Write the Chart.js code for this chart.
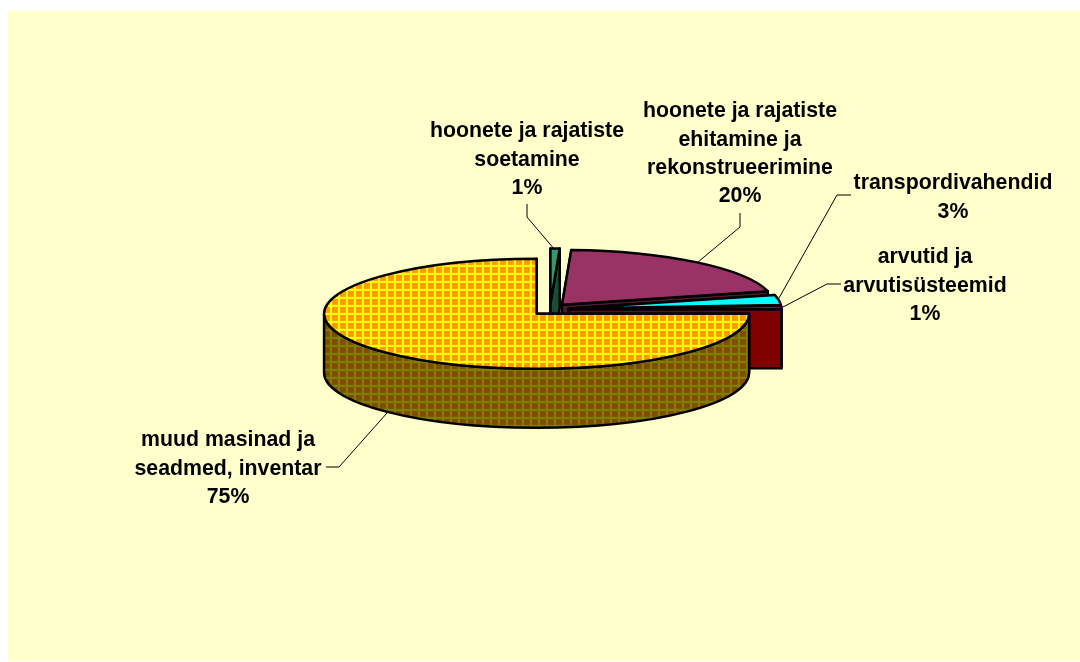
<!DOCTYPE html>
<html>
<head>
<meta charset="utf-8">
<title>Pie</title>
<script src="https://cdn.jsdelivr.net/npm/chart.js@4"></script>
<style>
    html, body { margin: 0; padding: 0; background: #fff; }
    canvas { display: block; }
</style>
</head>
<body>
<canvas id="pieChart" width="1080" height="662"></canvas>
<script>
const categories = [
    ['hoonete ja rajatiste', 'soetamine'],
    ['hoonete ja rajatiste', 'ehitamine ja', 'rekonstrueerimine'],
    ['transpordivahendid'],
    ['arvutid ja', 'arvutisüsteemid'],
    ['muud masinad ja', 'seadmed, inventar']
];
const values = [0.7, 20.3, 3, 1, 75];
const percentLabels = ['1%', '20%', '3%', '1%', '75%'];
const topColors = ['#339966', '#993366', '#00FFFF', '#FF0000', null];
const sideColors = ['#1A4D33', '#4D1933', '#008080', '#800000', null];

// label centre (x, first line y) and the leader line for each slice
const labelPos = [[527, 131.5], [740, 111.5], [953, 183.5], [925, 257.5], [228, 440.5]];
const leaders = [
    [[527, 204], [527, 217], [555, 250]],
    [[740, 213], [740, 227], [698, 262]],
    [[851, 195], [837, 195], [779, 298]],
    [[841, 284], [827, 284], [783, 307]],
    [[326, 467], [339, 467], [387, 413]]
];

const RADIUS = 212.5;
const SQUASH = 55 / 212.5;
const DEPTH = 59;
const CENTER_X = 550;
const CENTER_Y = 309.5;
const EXPLODE_X = 19;
const EXPLODE_Y = 6;

function makeGrid(base, soft, line) {
    const tile = document.createElement('canvas');
    tile.width = 8;
    tile.height = 8;
    const t = tile.getContext('2d');
    t.fillStyle = base;
    t.fillRect(0, 0, 8, 8);
    t.fillStyle = soft;
    t.fillRect(1, 0, 1, 8);
    t.fillRect(0, 0, 8, 1);
    t.fillStyle = line;
    t.fillRect(2, 0, 2, 8);
    t.fillRect(0, 1, 8, 2);
    return t.createPattern(tile, 'repeat');
}

const topPattern = makeGrid('#FF9900', '#FFA800', '#FFFF00');
const sidePattern = makeGrid('#804D00', '#805500', '#808000');
topColors[4] = topPattern;
sideColors[4] = sidePattern;

function outline(ctx) {
    ctx.strokeStyle = '#000';
    ctx.lineWidth = 2.5;
    ctx.lineJoin = 'round';
    ctx.stroke();
}

function drawSides(ctx, vx, vy, a0, a1, color) {
    const ry = RADIUS * SQUASH;
    ctx.fillStyle = color;
    // the two cut faces
    [a0, a1].forEach((a) => {
        const ex = vx + Math.cos(a) * RADIUS;
        const ey = vy + Math.sin(a) * ry;
        ctx.beginPath();
        ctx.moveTo(vx, vy);
        ctx.lineTo(ex, ey);
        ctx.lineTo(ex, ey + DEPTH);
        ctx.lineTo(vx, vy + DEPTH);
        ctx.closePath();
        ctx.fill();
        outline(ctx);
    });
    // outer wall, only the part that faces the viewer
    const from = Math.max(a0, 0);
    const to = Math.min(a1, Math.PI);
    if (to > from) {
        ctx.beginPath();
        ctx.ellipse(vx, vy, RADIUS, ry, 0, from, to);
        ctx.lineTo(vx + Math.cos(to) * RADIUS, vy + Math.sin(to) * ry + DEPTH);
        ctx.ellipse(vx, vy + DEPTH, RADIUS, ry, 0, to, from, true);
        ctx.closePath();
        ctx.fill();
        outline(ctx);
    }
}

const pie3d = {
    id: 'pie3d',
    beforeDraw(chart) {
        const ctx = chart.ctx;
        ctx.fillStyle = '#FFFFCC';
        ctx.fillRect(8, 11, 1072, 650);
    },
    beforeDatasetsDraw(chart) {
        const ctx = chart.ctx;
        const ry = RADIUS * SQUASH;
        chart.getDatasetMeta(0).data.forEach((arc, i) => {
            const mid = (arc.startAngle + arc.endAngle) / 2;
            const vx = CENTER_X + Math.cos(mid) * EXPLODE_X;
            const vy = CENTER_Y + Math.sin(mid) * EXPLODE_Y;

            drawSides(ctx, vx, vy, arc.startAngle, arc.endAngle, sideColors[i]);

            // top face comes from the library's arc, squashed into an ellipse
            ctx.save();
            ctx.translate(vx, vy);
            ctx.scale(1, SQUASH);
            ctx.translate(-arc.x, -arc.y);
            if (i === 4) {
                topPattern.setTransform(ctx.getTransform().inverse());
            }
            arc.draw(ctx);
            ctx.restore();

            ctx.beginPath();
            ctx.moveTo(vx, vy);
            ctx.ellipse(vx, vy, RADIUS, ry, 0, arc.startAngle, arc.endAngle);
            ctx.closePath();
            outline(ctx);
        });
        return false;
    },
    afterDraw(chart) {
        const ctx = chart.ctx;
        ctx.strokeStyle = '#000';
        ctx.lineWidth = 1;
        leaders.forEach((pts) => {
            ctx.beginPath();
            pts.forEach((p, j) => (j ? ctx.lineTo(p[0], p[1]) : ctx.moveTo(p[0], p[1])));
            ctx.stroke();
        });
        ctx.fillStyle = '#000';
        ctx.font = 'bold 21.3px "Liberation Sans", Arial, sans-serif';
        ctx.textAlign = 'center';
        ctx.textBaseline = 'middle';
        categories.forEach((lines, i) => {
            lines.concat(percentLabels[i]).forEach((text, j) => {
                ctx.fillText(text, labelPos[i][0], labelPos[i][1] + j * 28.2);
            });
        });
    }
};

new Chart(document.getElementById('pieChart').getContext('2d'), {
    type: 'pie',
    data: {
        labels: categories.map((c) => c.join(' ')),
        datasets: [
            {
                data: values,
                backgroundColor: topColors,
                borderWidth: 0,
                clip: false
            }
        ]
    },
    options: {
        responsive: false,
        animation: false,
        radius: RADIUS,
        rotation: 0,
        events: [],
        plugins: {
            legend: { display: false },
            tooltip: { enabled: false }
        }
    },
    plugins: [pie3d]
});
</script>
</body>
</html>
